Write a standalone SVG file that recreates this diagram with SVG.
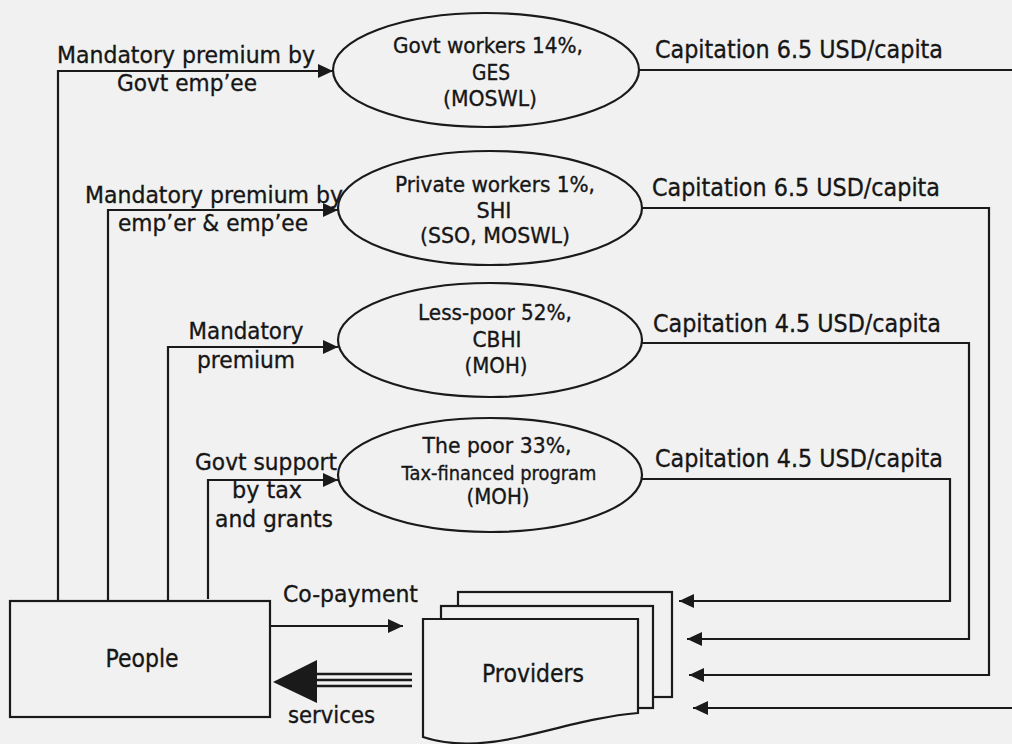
<svg xmlns="http://www.w3.org/2000/svg" width="1012" height="744" viewBox="0 0 1012 744">
<defs>
<style>
.t{font-family:"DejaVu Sans",Verdana,sans-serif;fill:#161616;stroke:#161616;stroke-width:0.35px;font-size:23px}
.c{font-size:24px}
.e{font-size:21.5px;text-anchor:middle}
.m{text-anchor:middle}
.ln{fill:none;stroke:#1a1a1a;stroke-width:2.2}
.sh{fill:#f1f1f1;stroke:#1a1a1a;stroke-width:2.2}
</style>
<marker id="ah" markerUnits="userSpaceOnUse" markerWidth="16" markerHeight="14" refX="15" refY="7" orient="auto">
<path d="M0,0 L15,7 L0,14 Z" fill="#1a1a1a"/>
</marker>
</defs>
<rect width="1012" height="744" fill="#f1f1f1"/>

<g id="connectors">
<path class="ln" d="M58,601 V71 H333" marker-end="url(#ah)"/>
<path class="ln" d="M108,601 V210 H338" marker-end="url(#ah)"/>
<path class="ln" d="M168,600 V347 H338" marker-end="url(#ah)"/>
<path class="ln" d="M208,599 V480 H338" marker-end="url(#ah)"/>
<path class="ln" d="M639,70 H1018 V708 H693" marker-end="url(#ah)"/>
<path class="ln" d="M642,208 H989 V675 H689" marker-end="url(#ah)"/>
<path class="ln" d="M642,343 H969 V639 H687" marker-end="url(#ah)"/>
<path class="ln" d="M642,479 H950 V601 H679" marker-end="url(#ah)"/>
<path class="ln" d="M270,626 H403" marker-end="url(#ah)"/>
<g id="services-arrow">
<polygon points="273,682 317,660 317,703" fill="#1a1a1a"/>
<path d="M316,674 H412 M316,680 H412 M316,686 H412" stroke="#1a1a1a" stroke-width="2.5" fill="none"/>
</g>
<text class="t" x="57" y="63" textLength="258" lengthAdjust="spacingAndGlyphs">Mandatory premium by</text>
<text class="t m" x="187" y="91" textLength="140" lengthAdjust="spacingAndGlyphs">Govt emp’ee</text>
<text class="t" x="85" y="203" textLength="258" lengthAdjust="spacingAndGlyphs">Mandatory premium by</text>
<text class="t m" x="213" y="231" textLength="190" lengthAdjust="spacingAndGlyphs">emp’er &amp; emp’ee</text>
<text class="t m" x="246" y="339" textLength="115" lengthAdjust="spacingAndGlyphs">Mandatory</text>
<text class="t m" x="246" y="368" textLength="98" lengthAdjust="spacingAndGlyphs">premium</text>
<text class="t m" x="266" y="470" textLength="142" lengthAdjust="spacingAndGlyphs">Govt support</text>
<text class="t m" x="267" y="498" textLength="70" lengthAdjust="spacingAndGlyphs">by tax</text>
<text class="t m" x="274" y="527" textLength="118" lengthAdjust="spacingAndGlyphs">and grants</text>
<text class="t c" x="655" y="58" textLength="288" lengthAdjust="spacingAndGlyphs">Capitation 6.5 USD/capita</text>
<text class="t c" x="652" y="196" textLength="288" lengthAdjust="spacingAndGlyphs">Capitation 6.5 USD/capita</text>
<text class="t c" x="653" y="332" textLength="288" lengthAdjust="spacingAndGlyphs">Capitation 4.5 USD/capita</text>
<text class="t c" x="655" y="467" textLength="288" lengthAdjust="spacingAndGlyphs">Capitation 4.5 USD/capita</text>
<text class="t" x="283" y="602" textLength="135" lengthAdjust="spacingAndGlyphs">Co-payment</text>
<text class="t" x="288" y="723" textLength="87" lengthAdjust="spacingAndGlyphs">services</text>
</g>

<g id="ges">
<ellipse class="sh" cx="486" cy="70" rx="153" ry="57"/>
<text class="t e" x="488" y="53" textLength="190" lengthAdjust="spacingAndGlyphs">Govt workers 14%,</text>
<text class="t e" x="491" y="80" textLength="38" lengthAdjust="spacingAndGlyphs">GES</text>
<text class="t e" x="490" y="106" textLength="94" lengthAdjust="spacingAndGlyphs">(MOSWL)</text>
</g>
<g id="shi">
<ellipse class="sh" cx="490" cy="208" rx="152" ry="57"/>
<text class="t e" x="495" y="192" textLength="200" lengthAdjust="spacingAndGlyphs">Private workers 1%,</text>
<text class="t e" x="494" y="218" textLength="35" lengthAdjust="spacingAndGlyphs">SHI</text>
<text class="t e" x="495" y="243" textLength="150" lengthAdjust="spacingAndGlyphs">(SSO, MOSWL)</text>
</g>
<g id="cbhi">
<ellipse class="sh" cx="490" cy="340" rx="152" ry="57"/>
<text class="t e" x="495" y="320" textLength="154" lengthAdjust="spacingAndGlyphs">Less-poor 52%,</text>
<text class="t e" x="497" y="347" textLength="49" lengthAdjust="spacingAndGlyphs">CBHI</text>
<text class="t e" x="496" y="373" textLength="63" lengthAdjust="spacingAndGlyphs">(MOH)</text>
</g>
<g id="poor">
<ellipse class="sh" cx="490" cy="475" rx="152" ry="57"/>
<text class="t e" x="497" y="453" textLength="149" lengthAdjust="spacingAndGlyphs">The poor 33%,</text>
<text class="t e" x="499" y="480" style="font-size:19px" textLength="195" lengthAdjust="spacingAndGlyphs">Tax-financed program</text>
<text class="t e" x="498" y="504" textLength="63" lengthAdjust="spacingAndGlyphs">(MOH)</text>
</g>
<g id="people">
<rect class="sh" x="10" y="601" width="260" height="116"/>
<text class="t m c" x="142" y="667" textLength="73" lengthAdjust="spacingAndGlyphs">People</text>
</g>
<g id="providers">
<rect class="sh" x="458" y="592" width="214" height="105"/>
<rect class="sh" x="441" y="606" width="212" height="102"/>
<path class="sh" d="M423,619 H638 V713 C600,716 560,728 520,737 C480,746 450,746 423,737 Z"/>
<text class="t m c" x="533" y="682" textLength="102" lengthAdjust="spacingAndGlyphs">Providers</text>
</g>
</svg>
